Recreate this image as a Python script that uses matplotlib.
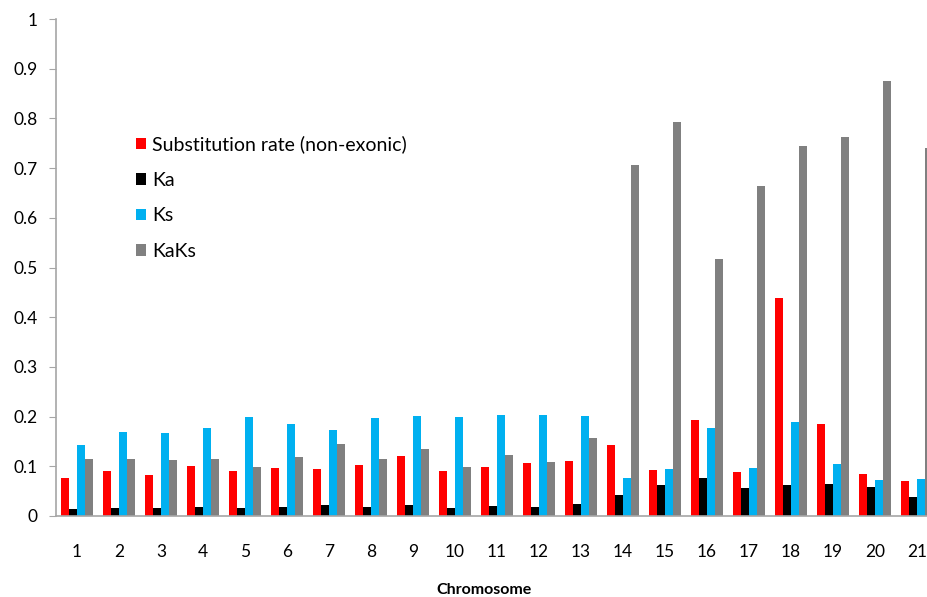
import matplotlib
matplotlib.use("Agg")
import matplotlib.pyplot as plt
import numpy as np

plt.rcParams['font.family'] = ['Lato', 'DejaVu Sans']

chromosomes = [str(i) for i in range(1, 22)]
subst_rate = [0.077, 0.090, 0.082, 0.100, 0.090, 0.096, 0.095, 0.102, 0.120, 0.090, 0.098,
              0.107, 0.110, 0.143, 0.093, 0.193, 0.088, 0.438, 0.186, 0.084, 0.070]
ka = [0.014, 0.017, 0.016, 0.018, 0.016, 0.019, 0.023, 0.019, 0.022, 0.016, 0.020,
      0.019, 0.025, 0.042, 0.062, 0.077, 0.057, 0.062, 0.064, 0.058, 0.038]
ks = [0.143, 0.170, 0.166, 0.178, 0.200, 0.185, 0.174, 0.197, 0.201, 0.200, 0.204,
      0.203, 0.201, 0.076, 0.094, 0.178, 0.097, 0.189, 0.104, 0.073, 0.074]
kaks = [0.115, 0.115, 0.113, 0.115, 0.098, 0.119, 0.145, 0.115, 0.135, 0.098, 0.122,
        0.108, 0.157, 0.707, 0.793, 0.517, 0.663, 0.744, 0.762, 0.875, 0.740]

series = [
    ("Substitution rate (non-exonic)", subst_rate, "#ff0000"),
    ("Ka", ka, "#000000"),
    ("Ks", ks, "#00b0f0"),
    ("KaKs", kaks, "#808080"),
]

fig = plt.figure(figsize=(9.28, 5.97), dpi=100)
ax = fig.add_axes([56 / 928, 81 / 597, 882 / 928, 497 / 597])

x = np.arange(1, len(chromosomes) + 1)
w = 0.185
for i, (name, vals, col) in enumerate(series):
    ax.bar(x + (i - 1.5) * w, vals, w, color=col, label=name)

ax.set_xlim(0.5, len(chromosomes) + 0.5)
ax.set_ylim(0, 1)
ax.set_yticks(np.arange(0, 1.01, 0.1))
ax.set_yticklabels(["0", "0.1", "0.2", "0.3", "0.4", "0.5", "0.6", "0.7", "0.8", "0.9", "1"])
ax.set_xticks(x)
ax.set_xticklabels(chromosomes)

for s in ["top", "right"]:
    ax.spines[s].set_visible(False)
for s in ["left", "bottom"]:
    ax.spines[s].set_color("#a6a6a6")
    ax.spines[s].set_linewidth(1.2)
ax.tick_params(axis="y", length=5, color="#a6a6a6", labelsize=12.5, pad=8)
ax.tick_params(axis="x", length=0, labelsize=12.5, pad=20)
ax.set_xlabel("Chromosome", fontsize=11.5, fontweight="bold", labelpad=15)
ax.xaxis.set_label_coords(428 / 882, -0.135)

ax.legend(loc="upper left", bbox_to_anchor=(70 / 882, 0.785), frameon=False,
          fontsize=14, handlelength=0.55, handleheight=0.55, handletextpad=0.3,
          labelspacing=0.95, borderpad=0)

fig.savefig("out.png", dpi=100)
